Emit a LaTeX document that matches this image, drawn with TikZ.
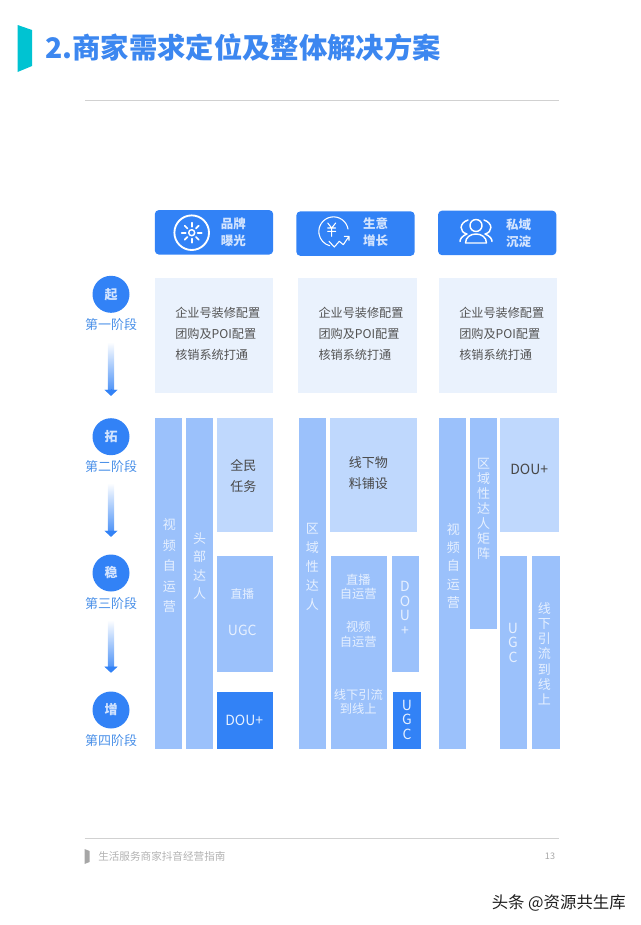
\documentclass[tikz,border=0pt]{standalone}
\usepackage{fontspec}
\setmainfont{Noto Sans CJK SC}
\usetikzlibrary{arrows.meta}
\definecolor{titleblue}{HTML}{3C87F0}
\definecolor{markteal}{HTML}{00C3D2}
\definecolor{headblue}{HTML}{3282F6}
\definecolor{paleblue}{HTML}{EAF2FD}
\definecolor{softblue}{HTML}{BFD8FD}
\definecolor{midblue}{HTML}{9BC1FB}
\definecolor{lighttext}{HTML}{E6F0FF}
\definecolor{palehead}{HTML}{D3E4FE}
\definecolor{stageblue}{HTML}{4A90E8}
\tikzset{
	blockbox/.style n args={3}{fill=#1,inner sep=0pt,minimum width=#2*7.5pt,minimum height=#3*7.5pt},
	headbox/.style={fill=headblue,rounded corners=3pt,inner sep=0pt,minimum width=11.83*7.5pt,minimum height=4.45*7.5pt},
	palebox/.style={fill=paleblue,inner sep=0pt,minimum width=11.85*7.5pt,minimum height=11.5*7.5pt},
	stagedot/.style={circle,fill=headblue,inner sep=0pt,minimum size=37*0.75pt,text=palehead,font=\bfseries\fontsize{9.75pt}{12pt}\selectfont},
	stagetext/.style={inner sep=0pt,text=stageblue,font=\fontsize{9.75pt}{12pt}\selectfont},
	headtext/.style={inner sep=0pt,align=center,text=palehead,font=\bfseries\fontsize{9.4pt}{12.4pt}\selectfont},
	listtext/.style={inner sep=0pt,anchor=west,align=left,text=black!68,font=\fontsize{9.1pt}{16pt}\selectfont},
	darktext/.style={inner sep=0pt,align=center,text=black!72,font=\fontsize{9.75pt}{15.9pt}\selectfont},
	whitetext/.style 2 args={inner sep=0pt,align=center,text=lighttext,font=\fontsize{#1pt}{#2pt}\selectfont},
	iconline/.style={draw=white,line width=1.1pt,line cap=round,line join=round},
	flowtip/.style={headblue,line width=0.1pt,-{Triangle[width=9.75pt,length=4.5pt]},shorten <=43.5pt},
}
\begin{document}
\begin{tikzpicture}[x=7.5pt,y=7.5pt]
	\useasboundingbox (0,0) rectangle (64,-92.5);
	% title
	\fill [markteal] (1.76,-2.5) -- (3.2,-3) -- (3.2,-6.6) -- (1.76,-7.2) -- cycle;
	\node (title) [inner sep=0pt,anchor=west,text=titleblue,font=\bfseries\fontsize{21.25pt}{26pt}\selectfont] at (4.5,-4.78) {2.商家需求定位及整体解决方案};
	\draw [black!18,line width=0.8pt] (8.5,-10.03) -- (55.9,-10.03);
	% top row
	\node (head1) [headbox] at (21.4,-23.23) {};
	\node (head2) [headbox] at (35.55,-23.36) {};
	\node (head3) [headbox] at (49.72,-23.29) {};
	\node (headtext1) [headtext] at (23.33,-23.23) {品牌\\曝光};
	\node (headtext2) [headtext] at (37.57,-23.2) {生意\\增长};
	\node (headtext3) [headtext] at (51.87,-23.33) {私域\\沉淀};
	% icons
	\draw [iconline,line width=1.4pt] (19.17,-23.27) circle (1.73);
	\draw [iconline] (19.17,-23.27) circle (0.3);
	\foreach \ang in {0,45,...,315}
		\draw [iconline,line width=1.3pt] (19.17,-23.27) ++(\ang:0.6) -- ++(\ang:0.4);
	\draw [iconline,line width=0.8pt] (34.8,-22.9) arc [start angle=10,end angle=255,radius=1.47];
	\draw [iconline,line width=0.8pt] (32.77,-22.3) -- (33.17,-22.8) -- (33.57,-22.3) (32.77,-22.8) -- (33.57,-22.8) (32.77,-23.13) -- (33.57,-23.13) (33.17,-22.8) -- (33.17,-23.63);
	\draw [iconline,line width=0.8pt] (32.9,-24.13) -- (33.43,-24.7) -- (33.93,-24.13) -- (34.33,-24.47) -- (34.9,-23.63) (34.43,-23.63) -- (34.9,-23.63) -- (34.9,-24.03);
	\draw [iconline] (47.6,-22.55) circle (0.6);
	\draw [iconline] (46.55,-24.3) .. controls (46.55,-23.1) and (48.65,-23.1) .. (48.65,-24.3) -- cycle;
	\draw [iconline] (46.8,-22) .. controls (45.9,-22.3) and (45.9,-23.2) .. (46.7,-23.4) .. controls (46.2,-23.6) and (46,-23.9) .. (46,-24.15);
	\draw [iconline] (48.4,-22) .. controls (49.3,-22.3) and (49.3,-23.2) .. (48.5,-23.4) .. controls (49,-23.6) and (49.2,-23.9) .. (49.2,-24.15);
	% first stage boxes
	\node (pale1) [palebox] at (21.4,-33.58) {};
	\node (pale2) [palebox] at (35.74,-33.58) {};
	\node (pale3) [palebox] at (49.8,-33.58) {};
	\node (list1) [listtext] at (17.5,-33.37) {企业号装修配置\\团购及POI配置\\核销系统打通};
	\node (list2) [listtext] at (31.83,-33.37) {企业号装修配置\\团购及POI配置\\核销系统打通};
	\node (list3) [listtext] at (45.9,-33.37) {企业号装修配置\\团购及POI配置\\核销系统打通};
	% stages
	\node (st1) [stagedot] at (11.1,-29.43) {起};
	\node (st2) [stagedot] at (11.1,-43.67) {拓};
	\node (st3) [stagedot] at (11.1,-57.3) {稳};
	\node (st4) [stagedot] at (11.1,-71) {增};
	\node (lab1) [stagetext] at (11.1,-32.5) {第一阶段};
	\node (lab2) [stagetext] at (11.1,-46.67) {第二阶段};
	\node (lab3) [stagetext] at (11.1,-60.4) {第三阶段};
	\node (lab4) [stagetext] at (11.1,-74.1) {第四阶段};
	\foreach \ya/\yb in {-34.2/-39,-48.3/-53.1,-62/-66.7}
		\shade [top color=white,bottom color=headblue!85] (10.78,\ya) rectangle (11.42,\yb);
	\draw [flowtip,shorten >=16.6pt] (lab1) -- (st2);
	\draw [flowtip,shorten >=13.1pt] (lab2) -- (st3);
	\draw [flowtip,shorten >=13.9pt] (lab3) -- (st4);
	% first column
	\node (a1) [blockbox={midblue}{2.73}{33.13}] at (16.84,-58.37) {};
	\node (a2) [blockbox={midblue}{2.7}{33.13}] at (19.92,-58.37) {};
	\node (a3) [blockbox={softblue}{5.63}{11.43}] at (24.52,-47.52) {};
	\node (a4) [blockbox={midblue}{5.63}{11.57}] at (24.52,-61.39) {};
	\node (a5) [blockbox={headblue}{5.63}{5.76}] at (24.52,-72.05) {};
	\node (a1t) [whitetext={9.75}{15.4}] at (16.93,-56.6) {视\\频\\自\\运\\营};
	\node (a2t) [whitetext={9.75}{13.9}] at (19.97,-56.6) {头\\部\\达\\人};
	\node (a3t) [darktext] at (24.33,-47.58) {全民\\任务};
	\node (a4t1) [whitetext={8.8}{11}] at (24.23,-59.4) {直播};
	\node (a4t2) [whitetext={10.5}{12}] at (24.23,-63.07) {UGC};
	\node (a5t) [whitetext={10.5}{12}] at (24.43,-72) {DOU+};
	% second column
	\node (b1) [blockbox={midblue}{2.7}{33.13}] at (31.22,-58.37) {};
	\node (b2) [blockbox={softblue}{8.7}{11.43}] at (37.32,-47.52) {};
	\node (b3) [blockbox={midblue}{5.63}{19.33}] at (35.89,-65.27) {};
	\node (b4) [blockbox={midblue}{2.73}{11.57}] at (40.57,-61.39) {};
	\node (b5) [blockbox={headblue}{2.77}{5.76}] at (40.69,-72.05) {};
	\node (b1t) [whitetext={9.75}{14.2}] at (31.23,-56.7) {区\\域\\性\\达\\人};
	\node (b2t) [darktext] at (36.83,-47.28) {线下物\\料铺设};
	\node (b3t1) [whitetext={9.2}{11}] at (35.83,-58.67) {直播\\自运营};
	\node (b3t2) [whitetext={9.2}{11}] at (35.83,-63.42) {视频\\自运营};
	\node (b3t3) [whitetext={9.2}{10.5}] at (35.83,-70.2) {线下引流\\到线上};
	\node (b4t) [whitetext={10.5}{11}] at (40.5,-60.83) {D\\O\\U\\+};
	\node (b5t) [whitetext={10.5}{11}] at (40.7,-71.97) {U\\G\\C};
	% third column
	\node (c1) [blockbox={midblue}{2.7}{33.13}] at (45.25,-58.37) {};
	\node (c2) [blockbox={midblue}{2.7}{21.07}] at (48.32,-52.33) {};
	\node (c3) [blockbox={softblue}{5.93}{11.43}] at (52.97,-47.52) {};
	\node (c4) [blockbox={midblue}{2.73}{19.33}] at (51.37,-65.27) {};
	\node (c5) [blockbox={midblue}{2.8}{19.33}] at (54.6,-65.27) {};
	\node (c1t) [whitetext={9.75}{13.8}] at (45.33,-56.6) {视\\频\\自\\运\\营};
	\node (c2t) [whitetext={9.75}{11.25}] at (48.37,-50.9) {区\\域\\性\\达\\人\\矩\\阵};
	\node (c3t) [whitetext={10.5}{12},text=black!72] at (52.93,-46.93) {DOU+};
	\node (c4t) [whitetext={10.5}{11}] at (51.3,-64.28) {U\\G\\C};
	\node (c5t) [whitetext={9.75}{11.4}] at (54.43,-65.37) {线\\下\\引\\流\\到\\线\\上};
	% footer
	\draw [black!18,line width=0.8pt] (8.45,-83.83) -- (55.9,-83.83);
	\fill [black!35] (8.45,-84.9) -- (8.96,-85.1) -- (8.96,-86.2) -- (8.45,-86.4) -- cycle;
	\node (guide) [inner sep=0pt,anchor=west,text=black!30,font=\fontsize{7.95pt}{10pt}\selectfont] at (9.8,-85.67) {生活服务商家抖音经营指南};
	\node (page) [inner sep=0pt,text=black!35,font=\fontsize{6.8pt}{9pt}\selectfont] at (55,-85.6) {13};
	\node (mark) [inner sep=0pt,anchor=east,text=black!88,font=\fontsize{12.3pt}{14pt}\selectfont] at (62.6,-90.27) {头条 @资源共生库};
\end{tikzpicture}
\end{document}
